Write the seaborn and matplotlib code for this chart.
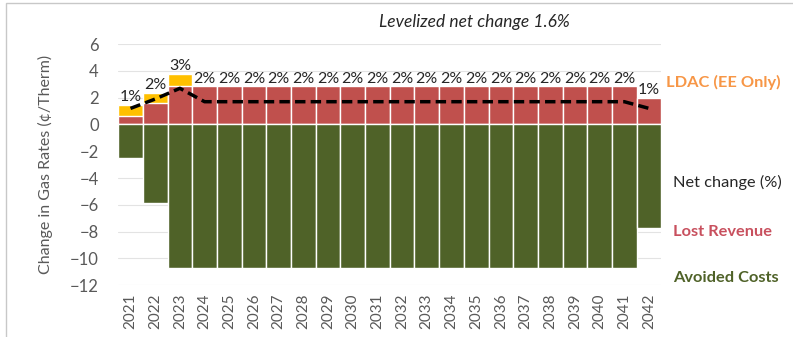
import numpy as np
import pandas as pd
import matplotlib.pyplot as plt
import seaborn as sns
from matplotlib.patches import Rectangle

# data (cents/therm)
years = [str(y) for y in range(2021, 2043)]
avoided_costs = [-2.5, -5.9] + [-10.7] * 19 + [-7.75]
lost_revenue = [0.65, 1.6] + [2.85] * 19 + [2.0]
ldac = [0.8, 0.75, 0.95] + [0.0] * 19
net_change = [1.2, 1.9, 2.7] + [1.7] * 18 + [1.2]
net_pct = [1, 2, 3] + [2] * 18 + [1]

GREEN = '#4F6228'
RED = '#C0504D'
YELLOW = '#FFC000'
GREY = '#595959'

sns.set_theme(style='white')
plt.rcParams['font.family'] = ['Lato', 'DejaVu Sans']

df = pd.DataFrame({
    'year': years,
    'avoided': avoided_costs,
    'lost': lost_revenue,
    'top': np.array(lost_revenue) + np.array(ldac),
    'net': net_change,
})

fig = plt.figure(figsize=(7.93, 3.37), dpi=100)
ax = fig.add_axes([0.149, 0.154, 0.685, 0.715])

bar_kw = dict(width=1.0, edgecolor='white', linewidth=1.0, ax=ax, saturation=1)
sns.barplot(data=df, x='year', y='top', color=YELLOW, **bar_kw)
sns.barplot(data=df, x='year', y='lost', color=RED, **bar_kw)
sns.barplot(data=df, x='year', y='avoided', color=GREEN, **bar_kw)

idx = np.arange(len(years))
sns.lineplot(x=idx, y=df['net'], color='black', linestyle=(0, (3, 1.5)),
             linewidth=2.5, ax=ax)

for i, (top, pct) in enumerate(zip(df['top'], net_pct)):
    ax.text(i, top + 0.05, f'{pct}%', ha='center', va='bottom',
            fontsize=11.5, color='#262626')

ax.set_ylim(-12, 6)
ax.set_xlim(-0.5, len(years) - 0.5)
ax.set_yticks(range(-12, 7, 2))
ax.yaxis.grid(True, color='#E3E3E3', linewidth=0.8)
ax.set_axisbelow(True)
for s in ax.spines.values():
    s.set_visible(False)
ax.tick_params(axis='y', labelsize=12, labelcolor=GREY, length=0, pad=14)
ax.tick_params(axis='x', labelsize=11, labelcolor=GREY, length=0, rotation=90, pad=6)
ax.set_xlabel('')
ax.set_ylabel('Change in Gas Rates (¢/Therm)', fontsize=11.5, color=GREY, labelpad=12)

fig.text(0.598, 0.935, 'Levelized net change 1.6%', fontsize=12.5, style='italic',
         color='#262626', ha='center', va='center')

side = [('LDAC (EE Only)', '#F79646', 'bold', 82, 666),
        ('Net change (%)', '#262626', 'normal', 182, 673),
        ('Lost Revenue', '#C8505E', 'bold', 232, 673),
        ('Avoided Costs', GREEN, 'bold', 278, 673)]
for label, col, wt, ypx, xpx in side:
    fig.text(xpx / 793, 1 - ypx / 337, label, fontsize=11.8, color=col,
             fontweight=wt, ha='left', va='center')

fig.patches.append(Rectangle((0.008, -0.01), 1.0, 1.0,
                             transform=fig.transFigure, fill=False,
                             edgecolor='#C8C8C8', linewidth=1.0))

fig.savefig('out.png', dpi=100)
